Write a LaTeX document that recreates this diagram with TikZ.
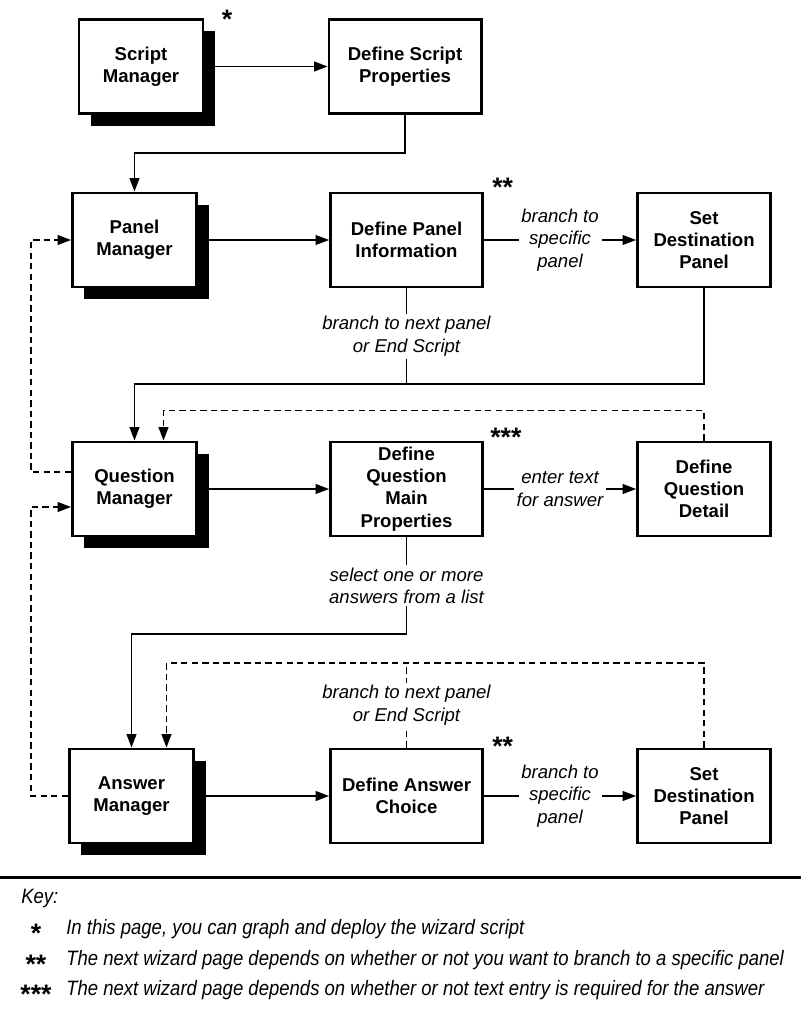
\documentclass[tikz,border=0pt]{standalone}
\usepackage{fontspec}
\setmainfont{Liberation Sans}
\newfontfamily\keyfont[FakeStretch=0.89]{Liberation Sans}
\usetikzlibrary{arrows.meta,calc,positioning,shadows}

\begin{document}
\begin{tikzpicture}[
      x=0.025cm, y=-0.025cm,
      box/.style={rectangle, draw, fill=white, line width=2.1pt, align=center, font=\bfseries\fontsize{13.2}{15.8}\selectfont, minimum height=2.35cm},
      mgr/.style={box, minimum width=3.1cm, general shadow={fill=black, shadow xshift=0.3cm, shadow yshift=-0.3cm}},
      defbox/.style={box, minimum width=3.8cm},
      dest/.style={box, minimum width=3.325cm},
      lbl/.style={fill=white, inner sep=2pt, align=center, font=\itshape\fontsize{13.2}{15.8}\selectfont},
      starmark/.style={inner sep=0pt, font=\bfseries\fontsize{19}{19}\selectfont},
      keytxt/.style={inner sep=0pt, anchor=base west, font=\keyfont\itshape\fontsize{14.8}{16}\selectfont},
      arrow/.style={-{Triangle[length=9.5pt,width=7pt]}, line width=0.9pt},
      conn/.style={line width=0.9pt},
      dasharrow/.style={arrow, dash pattern=on 4.5pt off 3pt},
      dashline/.style={conn, dash pattern=on 4.5pt off 3pt}
    ]
      \useasboundingbox (0,0) rectangle (801,1020);

      \node[mgr] (sm) at (141,66.5) {Script\\Manager};
      \node[defbox, right=3.075cm of sm] (dsp) {Define Script\\Properties};

      \node[mgr] (pm) at (134.5,240) {Panel\\Manager};
      \node[defbox, right=3.275cm of pm] (dpi) {Define Panel\\Information};
      \node[dest, right=3.8cm of dpi] (sdp1) {Set\\Destination\\Panel};

      \node[mgr] (qm) at (134.5,489) {Question\\Manager};
      \node[defbox, right=3.275cm of qm] (dqmp) {Define\\Question\\Main\\Properties};
      \node[dest, right=3.8cm of dqmp] (dqd) {Define\\Question\\Detail};

      \node[mgr] (am) at (131.5,796) {Answer\\Manager};
      \node[defbox, right=3.35cm of am] (dac) {Define Answer\\Choice};
      \node[dest, right=3.8cm of dac] (sdp2) {Set\\Destination\\Panel};

      \node[starmark, anchor=north] (st1) at (227,10) {*};
      \node[starmark, anchor=north west] (st2) at (492,178) {**};
      \node[starmark, anchor=north west] (st3) at (490,428) {***};
      \node[starmark, anchor=north west] (st4) at (492,737) {**};

      \coordinate (r1) at (0,384);
      \coordinate (r2) at (0,634);
      \coordinate (r3) at (0,663);
      \coordinate (lx) at (31,0);
      \coordinate (qmin) at ($(qm.north)+(29,0)$);
      \coordinate (qmw) at ($(qm.west)+(0,18)$);
      \coordinate (amin) at ($(am.north)+(35,0)$);

      \draw[arrow] (sm) -- (dsp);
      \draw[arrow] (dsp.south) -- ++(0,38) -| (pm.north);
      \draw[arrow] (pm) -- (dpi);
      \draw[arrow] (dpi) -- node[lbl] {branch to\\specific\\panel} (sdp1);
      \draw[conn] (dpi.south) -- node[lbl] {branch to next panel\\or End Script} (dpi.south |- r1);
      \draw[arrow] (sdp1.south) |- (qm.north |- r1) -- (qm.north);
      \draw[dasharrow] ($(qm.west)+(0,-17)$) -| (lx |- pm.west) -- (pm.west);
      \draw[dasharrow] (dqd.north) -- ++(0,-30) -| (qmin);

      \draw[arrow] (qm) -- (dqmp);
      \draw[arrow] (dqmp) -- node[lbl] {enter text\\for answer} (dqd);
      \draw[conn] (dqmp.south) -- node[lbl] {select one or more\\answers from a list} (dqmp.south |- r2);
      \draw[arrow] (dqmp.south |- r2) -| (am.north);
      \draw[dasharrow] (am.west) -| (lx |- qmw) -- (qmw);

      \draw[arrow] (am) -- (dac);
      \draw[arrow] (dac) -- node[lbl] {branch to\\specific\\panel} (sdp2);
      \draw[dashline] (dac.north) -- node[lbl] {branch to next panel\\or End Script} (dac.north |- r3);
      \draw[dasharrow] (sdp2.north) |- (amin |- r3) -- (amin);

      \draw[line width=0.075cm] (0,877) -- (801,877);

      \node[keytxt] (key) at (21,903) {Key:};
      \node[starmark, anchor=north] (ks1) at (36,924) {*};
      \node[keytxt] (k1) at (66,934) {In this page, you can graph and deploy the wizard script};
      \node[starmark, anchor=north] (ks2) at (36,955) {**};
      \node[keytxt] (k2) at (66,965) {The next wizard page depends on whether or not you want to branch to a specific panel};
      \node[starmark, anchor=north] (ks3) at (36,985) {***};
      \node[keytxt] (k3) at (66,995) {The next wizard page depends on whether or not text entry is required for the answer};
    \end{tikzpicture}
\end{document}
